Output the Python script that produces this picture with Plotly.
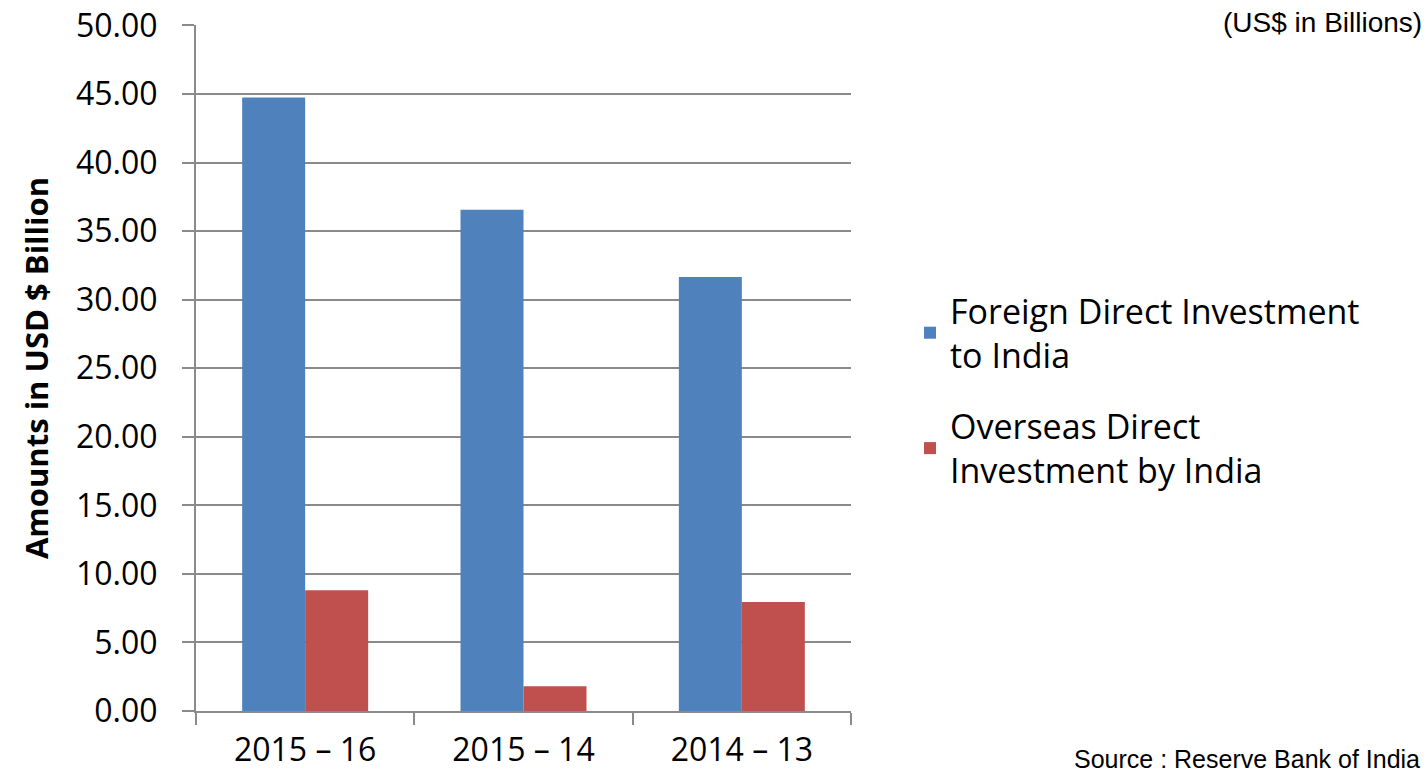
import plotly.graph_objects as go

categories = ["2015 – 16", "2015 – 14", "2014 – 13"]
fdi_values = [44.75, 36.55, 31.65]
odi_values = [8.80, 1.80, 7.95]
series_names = ["Foreign Direct Investment<br>to India", "Overseas Direct<br>Investment by India"]
y_ticks = [0, 5, 10, 15, 20, 25, 30, 35, 40, 45, 50]

W, H = 1428, 774
L, R, T, B = 196, 577, 25, 63
pw, ph = W - L - R, H - T - B

def px_x(x):
    return (x - L) / pw

def px_y(y):
    return (H - B - y) / ph

grid = "#8a8a8a"
body_font = "Open Sans"

fig = go.Figure()
fig.add_trace(go.Bar(x=categories, y=fdi_values, name=series_names[0],
                     marker=dict(color="#4F81BD", line=dict(width=0)),
                     legendgroup="a"))
fig.add_trace(go.Bar(x=categories, y=odi_values, name=series_names[1],
                     marker=dict(color="#C0504D", line=dict(width=0)),
                     legendgroup="b"))

fig.update_layout(
    width=W, height=H,
    margin=dict(l=L, r=R, t=T, b=B, pad=0, autoexpand=False),
    paper_bgcolor="white", plot_bgcolor="white",
    barmode="group", bargap=0.423, bargroupgap=0,
    font=dict(family=body_font, color="#000000"),
    legend=dict(
        x=px_x(910), y=px_y(282), xanchor="left", yanchor="top",
        font=dict(family=body_font, size=34, color="#000000"),
        traceorder="grouped", tracegroupgap=24,
        bgcolor="rgba(0,0,0,0)", borderwidth=0,
    ),
    xaxis=dict(
        automargin=False,
        showline=True, linecolor=grid, linewidth=2,
        ticks="outside", tickson="boundaries", ticklen=12, tickwidth=2, tickcolor=grid,
        tickfont=dict(family=body_font, size=32, color="#000000"),
        ticklabelstandoff=10,
        showgrid=False, fixedrange=True,
    ),
    yaxis=dict(
        automargin=False,
        range=[0, 50.03], tickvals=y_ticks, tickformat=".2f",
        showline=True, linecolor=grid, linewidth=2,
        ticks="outside", ticklen=12, tickwidth=2, tickcolor=grid,
        tickfont=dict(family=body_font, size=32, color="#000000"),
        ticklabelstandoff=18,
        showgrid=True, gridcolor=grid, gridwidth=2,
        zeroline=False,
        title=dict(text="<b>Amounts in USD $ Billion</b>",
                   font=dict(family=body_font, size=31, color="#000000"),
                   standoff=18),
    ),
    annotations=[
        dict(text="(US$ in Billions)", xref="paper", yref="paper",
             x=px_x(1424), y=px_y(22), xanchor="right", yanchor="middle",
             showarrow=False, font=dict(family="Liberation Sans", size=28, color="#000000")),
        dict(text="Source : Reserve Bank of India", xref="paper", yref="paper",
             x=px_x(1072), y=px_y(759), xanchor="left", yanchor="middle",
             showarrow=False, font=dict(family="Liberation Sans", size=25, color="#000000")),
    ],
)

fig.write_html("out.html")
